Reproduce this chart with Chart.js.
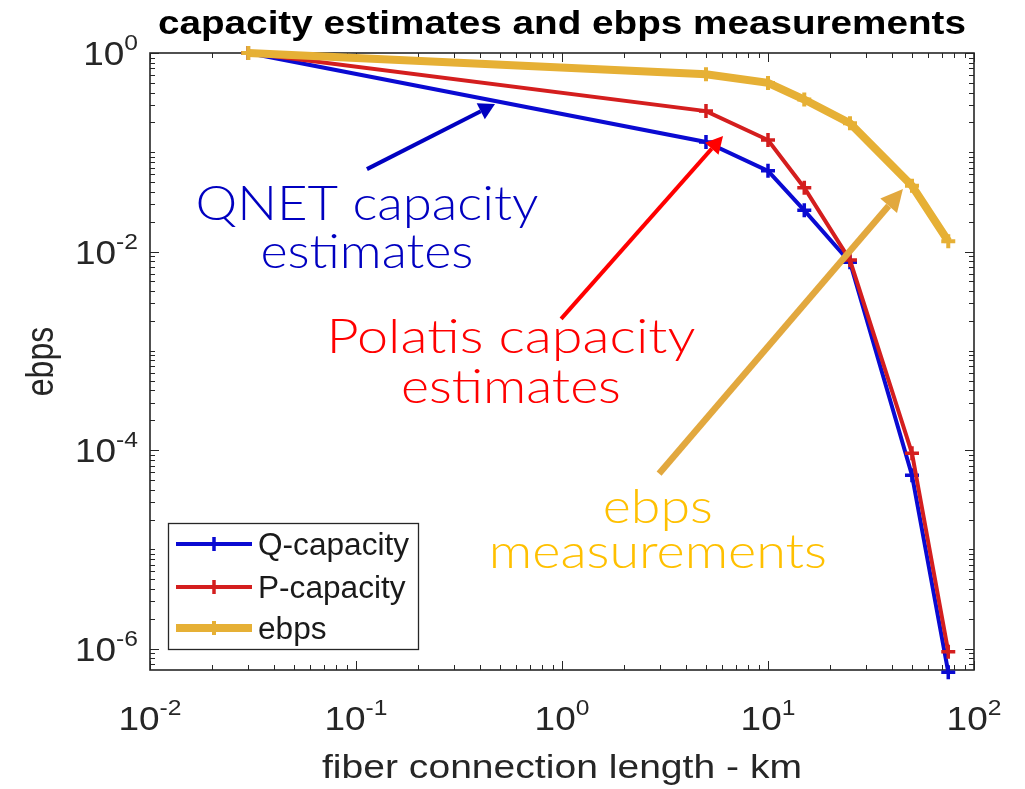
<!DOCTYPE html>
<html>
<head>
<meta charset="utf-8">
<script src="https://cdn.jsdelivr.net/npm/chart.js@4.4.1/dist/chart.umd.min.js"></script>
<style>
  html, body { margin: 0; padding: 0; background: #fff; }
</style>
</head>
<body>
<canvas id="chart" width="1025" height="789"></canvas>
<script>
// data
const lengthsKm = [0.03, 5, 10, 15, 25, 50, 75];
const qCapacity = [1, 0.127, 0.065, 0.026, 0.0078, 5.6e-5, 5.8e-7];
const pCapacity = [1, 0.26, 0.133, 0.044, 0.0082, 9.3e-5, 9.3e-7];
const ebpsMeasured = [1, 0.61, 0.50, 0.34, 0.196, 0.046, 0.0127];

const seriesNames = ['Q-capacity', 'P-capacity', 'ebps'];
const xTickExps = [-2, -1, 0, 1, 2];
const yTickExps = [-6, -4, -2, 0];
const xRange = [1e-2, 1e2];
const yRange = [6.1e-7, 1];

const titleText = 'capacity estimates and ebps measurements';
const xTitle = 'fiber connection length - km';
const yTitle = 'ebps';

const calloutTexts = [
  ['QNET capacity', 'estimates'],
  ['Polatis capacity', 'estimates'],
  ['ebps', 'measurements']
];

const AXIS = '#262626';
const Q_COLOR = '#0a0ad2';
const P_COLOR = '#d41e1e';
const E_COLOR = '#e6b035';
const SANS = '"Liberation Sans", Arial, sans-serif';

// callout layout (anchor + arrow in data coords, widths in px)
const calloutStyle = [
  { color: '#0000c0', arrow: '#0000c0', at: [0.113, 0.0207], gap: 48, widths: [343, 213],
    from: [0.113, 0.0677], to: [0.473, 0.306], lw: 4, head: [16, 9] },
  { color: '#ff0000', arrow: '#ff0000', at: [0.565, 9.46e-4], gap: 50, widths: [369, 220],
    from: [0.99, 0.0021], to: [6.05, 0.146], lw: 4, head: [17, 9] },
  { color: '#ffc000', arrow: '#e2a83e', at: [2.92, 1.83e-5], gap: 45, widths: [110, 338],
    from: [2.96, 5.8e-5], to: [45.2, 0.0426], lw: 6.5, head: [22, 11] }
];

function drawText(ctx, text, x, y, font, color, sx, align) {
  ctx.save();
  ctx.font = font;
  ctx.fillStyle = color;
  ctx.textBaseline = 'alphabetic';
  ctx.textAlign = 'left';
  const w = ctx.measureText(text).width * sx;
  const left = align === 'center' ? x - w / 2 : align === 'right' ? x - w : x;
  ctx.translate(left, y);
  ctx.scale(sx, 1);
  ctx.fillText(text, 0, 0);
  ctx.restore();
  return w;
}

function fitText(ctx, text, x, y, font, color, width, align) {
  ctx.save();
  ctx.font = font;
  const sx = width / ctx.measureText(text).width;
  ctx.restore();
  drawText(ctx, text, x, y, font, color, sx, align);
}

function drawPow(ctx, exp, x, y, align) {
  const baseFont = '33px ' + SANS;
  const expFont = '22px ' + SANS;
  const sx = 1.12;
  const e = String(exp);
  ctx.save();
  ctx.font = baseFont;
  const wb = ctx.measureText('10').width * sx;
  ctx.font = expFont;
  const we = ctx.measureText(e).width * sx;
  ctx.restore();
  const total = wb + we;
  const left = align === 'center' ? x - total / 2 : x - total;
  drawText(ctx, '10', left, y, baseFont, AXIS, sx, 'left');
  drawText(ctx, e, left + wb, y - 15, expFont, AXIS, sx, 'left');
}

function arrow(ctx, x0, y0, x1, y1, color, width, headLen, headHalf) {
  const ang = Math.atan2(y1 - y0, x1 - x0);
  const bx = x1 - headLen * Math.cos(ang), by = y1 - headLen * Math.sin(ang);
  ctx.save();
  ctx.strokeStyle = color;
  ctx.lineWidth = width;
  ctx.beginPath();
  ctx.moveTo(x0, y0);
  ctx.lineTo(bx, by);
  ctx.stroke();
  ctx.fillStyle = color;
  ctx.beginPath();
  ctx.moveTo(x1, y1);
  ctx.lineTo(bx + headHalf * Math.sin(ang), by - headHalf * Math.cos(ang));
  ctx.lineTo(bx - headHalf * Math.sin(ang), by + headHalf * Math.cos(ang));
  ctx.closePath();
  ctx.fill();
  ctx.restore();
}

const axesPlugin = {
  id: 'matlabAxes',
  beforeDatasetsDraw(chart) {
    const { ctx, chartArea: a, scales: { x, y } } = chart;
    ctx.save();
    ctx.strokeStyle = AXIS;
    ctx.lineWidth = 1;
    ctx.beginPath();
    for (let d = -2; d <= 2; d++) {
      for (let k = 1; k <= 9; k++) {
        const v = k * Math.pow(10, d);
        if (v < xRange[0] || v > xRange[1] * 1.0001) continue;
        const px = Math.round(x.getPixelForValue(v)) + 0.5;
        const len = k === 1 ? 9 : 5;
        ctx.moveTo(px, a.bottom); ctx.lineTo(px, a.bottom - len);
        ctx.moveTo(px, a.top); ctx.lineTo(px, a.top + len);
      }
    }
    for (let d = -7; d <= 0; d++) {
      for (let k = 1; k <= 9; k++) {
        const v = k * Math.pow(10, d);
        if (v < yRange[0] || v > yRange[1] * 1.0001) continue;
        const py = Math.round(y.getPixelForValue(v)) + 0.5;
        const len = (k === 1 && d % 2 === 0) ? 9 : 5;
        ctx.moveTo(a.left, py); ctx.lineTo(a.left + len, py);
        ctx.moveTo(a.right, py); ctx.lineTo(a.right - len, py);
      }
    }
    ctx.stroke();
    ctx.lineWidth = 1.6;
    ctx.strokeRect(a.left, a.top, a.right - a.left, a.bottom - a.top);
    ctx.restore();

    // tick labels
    xTickExps.forEach(e => drawPow(ctx, e, x.getPixelForValue(Math.pow(10, e)), a.bottom + 60, 'center'));
    yTickExps.forEach(e => drawPow(ctx, e, a.left - 12, y.getPixelForValue(Math.pow(10, e)) + 12, 'right'));

    // titles
    const cx = (a.left + a.right) / 2;
    fitText(ctx, titleText, cx, 34, 'bold 34px ' + SANS, '#000', 808, 'center');
    fitText(ctx, xTitle, cx, 778, '33px ' + SANS, AXIS, 480, 'center');
    ctx.save();
    ctx.translate(53, (a.top + a.bottom) / 2);
    ctx.rotate(-Math.PI / 2);
    ctx.scale(1, 1.2);
    drawText(ctx, yTitle, 0, 0, '32px ' + SANS, AXIS, 1, 'center');
    ctx.restore();
  },
  afterDraw(chart) {
    const { ctx, chartArea: a, scales: { x, y } } = chart;

    // legend box inside the axes, lower left
    const lx = a.left + 18, ly = a.bottom - 147, lw = 250, lh = 126;
    ctx.save();
    ctx.fillStyle = '#fff';
    ctx.fillRect(lx, ly, lw, lh);
    ctx.strokeStyle = AXIS;
    ctx.lineWidth = 1.3;
    ctx.strokeRect(lx + 0.5, ly + 0.5, lw, lh);
    const rows = [21, 64, 105];
    chart.data.datasets.forEach((ds, i) => {
      const ry = ly + rows[i];
      ctx.strokeStyle = ds.borderColor;
      ctx.lineWidth = ds.borderWidth;
      ctx.beginPath();
      ctx.moveTo(lx + 8, ry);
      ctx.lineTo(lx + 84, ry);
      ctx.stroke();
      ctx.lineWidth = ds.pointBorderWidth;
      ctx.beginPath();
      ctx.moveTo(lx + 46, ry - ds.pointRadius);
      ctx.lineTo(lx + 46, ry + ds.pointRadius);
      ctx.stroke();
      drawText(ctx, ds.label, lx + 90, ry + 11, '31px ' + SANS, '#1a1a1a', 1.02, 'left');
    });
    ctx.restore();

    // callouts
    calloutStyle.forEach((c, i) => {
      const fx = x.getPixelForValue(c.from[0]), fy = y.getPixelForValue(c.from[1]);
      const tx = x.getPixelForValue(c.to[0]), ty = y.getPixelForValue(c.to[1]);
      arrow(ctx, fx, fy, tx, ty, c.arrow, c.lw, c.head[0], c.head[1]);
      const ax = x.getPixelForValue(c.at[0]), ay = y.getPixelForValue(c.at[1]);
      calloutTexts[i].forEach((t, j) => {
        fitText(ctx, t, ax, ay + j * c.gap, '300 47px Lato, "Noto Sans", sans-serif', c.color, c.widths[j], 'center');
      });
    });
  }
};

const pts = vals => lengthsKm.map((v, i) => ({ x: v, y: vals[i] }));

new Chart(document.getElementById('chart'), {
  type: 'line',
  data: {
    datasets: [
      { label: seriesNames[0], data: pts(qCapacity), borderColor: Q_COLOR, backgroundColor: Q_COLOR,
        borderWidth: 4, pointStyle: 'cross', pointRadius: 7, pointBorderWidth: 3.5,
        pointBorderColor: Q_COLOR, order: 3, clip: false, tension: 0 },
      { label: seriesNames[1], data: pts(pCapacity), borderColor: P_COLOR, backgroundColor: P_COLOR,
        borderWidth: 4, pointStyle: 'cross', pointRadius: 7, pointBorderWidth: 3.5,
        pointBorderColor: P_COLOR, order: 2, clip: false, tension: 0 },
      { label: seriesNames[2], data: pts(ebpsMeasured), borderColor: E_COLOR, backgroundColor: E_COLOR,
        borderWidth: 8, pointStyle: 'cross', pointRadius: 7, pointBorderWidth: 4,
        pointBorderColor: E_COLOR, order: 1, clip: false, tension: 0 }
    ]
  },
  options: {
    responsive: false,
    animation: false,
    events: [],
    layout: { padding: { left: 150, right: 51, top: 53, bottom: 119 } },
    plugins: {
      legend: { display: false },
      tooltip: { enabled: false },
      title: { display: false }
    },
    scales: {
      x: { type: 'logarithmic', min: xRange[0], max: xRange[1], display: false },
      y: { type: 'logarithmic', min: yRange[0], max: yRange[1], display: false }
    }
  },
  plugins: [axesPlugin]
});
</script>
</body>
</html>
